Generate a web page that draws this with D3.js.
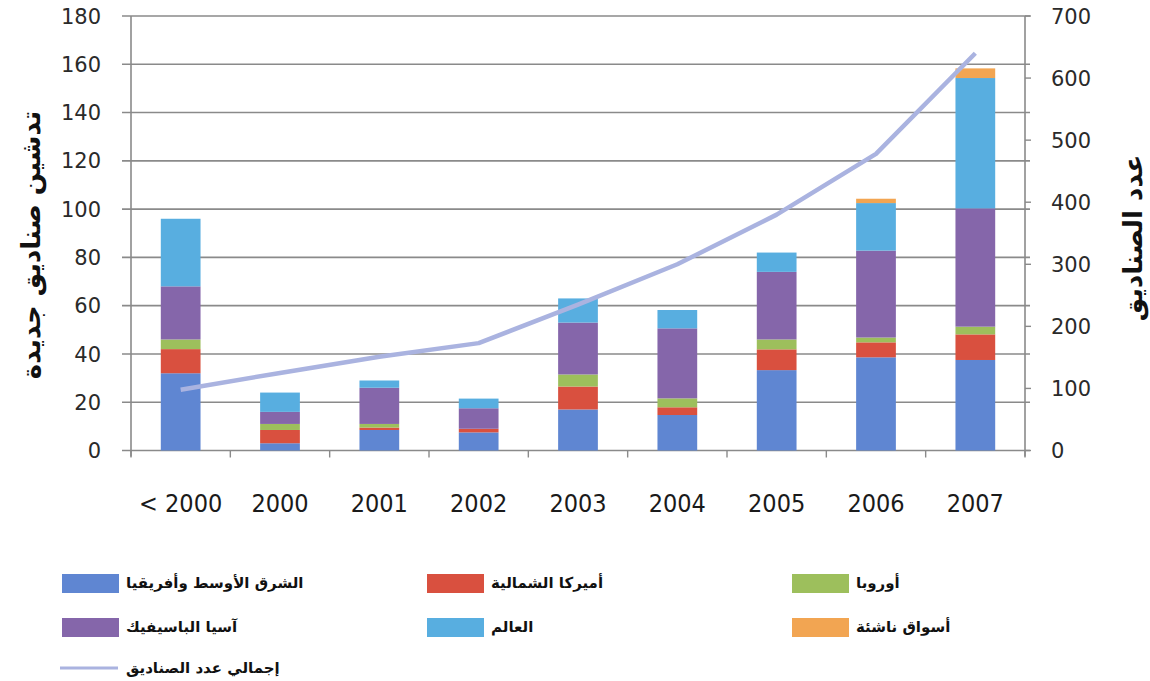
<!DOCTYPE html>
<html>
<head>
<meta charset="utf-8">
<script src="https://cdn.jsdelivr.net/npm/d3@7/dist/d3.min.js"></script>
<style>
  html, body { margin: 0; padding: 0; background: #fff; }
  svg { display: block; }
  .tick-num { font-family: "DejaVu Sans", sans-serif; font-size: 21px; fill: #2a2a2a; }
  .year { font-family: "DejaVu Sans Condensed", "DejaVu Sans", sans-serif; font-size: 25px; fill: #1a1a1a; direction: ltr; unicode-bidi: isolate; }
  .ar { font-family: "DejaVu Sans", sans-serif; font-weight: bold; fill: #111; }
</style>
</head>
<body>
<svg id="chart" width="1150" height="681"></svg>
<script>
// Categories (launch year)
const categories = ["< 2000", "2000", "2001", "2002", "2003", "2004", "2005", "2006", "2007"];

// New funds launched per region (stacked, bottom to top)
const middleEastAfrica = [32, 3, 8.5, 7.5, 17, 14.7, 33.3, 38.6, 37.5];
const northAmerica     = [10, 5.5, 1, 1.5, 9.5, 3.2, 8.6, 6.2, 10.6];
const europe           = [4, 2.5, 1.5, 0, 5, 3.7, 4.1, 2, 3.2];
const asiaPacific      = [22, 5, 15, 8.5, 21.5, 29, 28, 36, 49];
const world            = [28, 8, 3, 4, 10, 7.6, 8, 19.7, 54];
const emergingMarkets  = [0, 0, 0, 0, 0, 0, 0, 1.8, 4];

// Total number of funds (right axis)
const totalFunds = [98, 125, 151, 173, 235, 300, 380, 478, 640];

const leftTicks  = [0, 20, 40, 60, 80, 100, 120, 140, 160, 180];
const rightTicks = [0, 100, 200, 300, 400, 500, 600, 700];

const seriesNames = ["الشرق الأوسط وأفريقيا", "أميركا الشمالية", "أوروبا", "آسيا الباسيفيك", "العالم", "أسواق ناشئة"];
const seriesColors = ["#5f86d2", "#d9503f", "#9dbf5c", "#8566aa", "#58aee0", "#f2a552"];
const lineName = "إجمالي عدد الصناديق";
const lineColor = "#aab3e0";
const leftTitle = "تدشين صناديق جديدة";
const rightTitle = "عدد الصناديق";

const seriesValues = [middleEastAfrica, northAmerica, europe, asiaPacific, world, emergingMarkets];

const svg = d3.select("#chart");
const plotLeft = 131, plotRight = 1025, plotTop = 16, plotBottom = 450.5;

const x = d3.scaleBand().domain(categories).range([plotLeft, plotRight]).paddingInner(0.6).paddingOuter(0.3);
const yL = d3.scaleLinear().domain([0, 180]).range([plotBottom, plotTop]);
const yR = d3.scaleLinear().domain([0, 700]).range([plotBottom, plotTop]);

// Gridlines
svg.append("g").selectAll("line").data(leftTicks).join("line")
  .attr("x1", plotLeft - 9).attr("x2", plotRight + 5)
  .attr("y1", d => yL(d)).attr("y2", d => yL(d))
  .attr("stroke", "#8a8a8a").attr("stroke-width", 1.6);

// Stacked bars
const rows = categories.map((c, i) => {
  const r = { cat: c };
  seriesValues.forEach((s, k) => r["s" + k] = s[i]);
  return r;
});
const stack = d3.stack().keys(seriesValues.map((_, k) => "s" + k));
const layers = stack(rows);

svg.append("g").selectAll("g").data(layers).join("g")
  .attr("fill", (d, k) => seriesColors[k])
  .selectAll("rect").data(d => d).join("rect")
  .attr("x", d => x(d.data.cat))
  .attr("width", x.bandwidth())
  .attr("y", d => yL(d[1]))
  .attr("height", d => Math.max(0, yL(d[0]) - yL(d[1])));

// Axis lines
svg.append("line").attr("x1", plotLeft).attr("x2", plotLeft).attr("y1", plotTop).attr("y2", plotBottom + 6)
  .attr("stroke", "#8a8a8a").attr("stroke-width", 1.6);
svg.append("line").attr("x1", plotRight).attr("x2", plotRight).attr("y1", plotTop).attr("y2", plotBottom + 6)
  .attr("stroke", "#8a8a8a").attr("stroke-width", 1.6);

// Category boundary ticks
const bounds = d3.range(categories.length + 1).map(i => plotLeft + i * x.step());
svg.append("g").selectAll("line").data(bounds).join("line")
  .attr("x1", d => d).attr("x2", d => d)
  .attr("y1", plotBottom).attr("y2", plotBottom + 7)
  .attr("stroke", "#8a8a8a").attr("stroke-width", 1.4);

// Right axis tick marks
svg.append("g").selectAll("line").data(rightTicks).join("line")
  .attr("x1", plotRight).attr("x2", plotRight + 6)
  .attr("y1", d => yR(d)).attr("y2", d => yR(d))
  .attr("stroke", "#8a8a8a").attr("stroke-width", 1.4);

// Total funds line
svg.append("path")
  .datum(totalFunds)
  .attr("fill", "none")
  .attr("stroke", lineColor)
  .attr("stroke-width", 4.5)
  .attr("stroke-linejoin", "round")
  .attr("d", d3.line().x((d, i) => x(categories[i]) + x.bandwidth() / 2).y(d => yR(d)));

// Tick labels
svg.append("g").selectAll("text").data(leftTicks).join("text")
  .attr("class", "tick-num")
  .attr("x", 101).attr("y", d => yL(d)).attr("dy", "0.36em")
  .attr("text-anchor", "end").text(d => d);

svg.append("g").selectAll("text").data(rightTicks).join("text")
  .attr("class", "tick-num")
  .attr("x", 1051).attr("y", d => yR(d)).attr("dy", "0.36em")
  .attr("text-anchor", "start").text(d => d);

svg.append("g").selectAll("text").data(categories).join("text")
  .attr("class", "year")
  .attr("x", d => x(d) + x.bandwidth() / 2).attr("y", 512)
  .attr("text-anchor", "middle").text(d => d);

// Axis titles
svg.append("text").attr("class", "ar")
  .attr("transform", "translate(40,245) rotate(-90)")
  .attr("text-anchor", "middle").style("font-size", "26px")
  .text(leftTitle);
svg.append("text").attr("class", "ar")
  .attr("transform", "translate(1142,238) rotate(-90)")
  .attr("text-anchor", "middle").style("font-size", "26px")
  .text(rightTitle);

// Legend
const legendCols = [62, 427, 792];
const legendRows = [583, 627];
const legend = svg.append("g");
seriesNames.forEach((name, k) => {
  const cx = legendCols[k % 3];
  const cy = legendRows[Math.floor(k / 3)];
  legend.append("rect").attr("x", cx).attr("y", cy - 9).attr("width", 57).attr("height", 19)
    .attr("fill", seriesColors[k]);
  legend.append("text").attr("class", "ar").style("font-size", "15px")
    .attr("x", cx + 64).attr("y", cy).attr("dy", "0.35em").text(name);
});
legend.append("line").attr("x1", 60).attr("x2", 118).attr("y1", 668).attr("y2", 668)
  .attr("stroke", lineColor).attr("stroke-width", 3);
legend.append("text").attr("class", "ar").style("font-size", "15px")
  .attr("x", 126).attr("y", 668).attr("dy", "0.35em").text(lineName);
</script>
</body>
</html>
